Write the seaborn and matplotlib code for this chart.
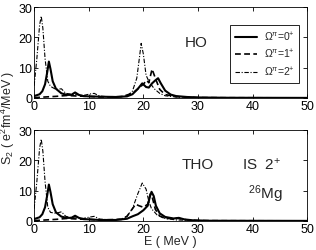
import numpy as np
import pandas as pd
import matplotlib
matplotlib.use('Agg')
import matplotlib.pyplot as plt
import seaborn as sns

# digitized strength functions S2 (e^2 fm^4 / MeV) vs E (MeV)
# HO basis
ho_e0 = [0, 1, 1.5, 2, 2.4, 2.7, 3.0, 3.4, 4, 5, 6, 6.8, 7.5, 8.2, 9, 10, 12, 15, 17, 18, 19, 19.8, 20.5, 21.0, 21.6, 22.2, 22.7, 23.2, 24, 25, 26, 28, 30, 35, 50]
ho_s0 = [0.6, 1.2, 2.2, 4.5, 8.5, 12, 9.5, 5.5, 3.0, 1.5, 1.0, 1.0, 1.8, 1.0, 0.6, 0.5, 0.4, 0.3, 0.5, 1.2, 3.0, 4.8, 3.6, 3.4, 4.8, 5.8, 6.5, 4.8, 2.4, 1.1, 0.6, 0.3, 0.15, 0.05, 0]

ho_e1 = [0, 2, 4, 6, 8, 10, 12, 16, 18, 19, 20, 20.6, 21.0, 21.6, 22.2, 23, 24, 26, 30, 35, 50]
ho_s1 = [0.1, 0.3, 0.5, 0.8, 0.6, 0.5, 0.3, 0.4, 1.5, 3.0, 4.5, 5.8, 5.0, 9.5, 6.5, 2.8, 1.1, 0.4, 0.1, 0.05, 0]

ho_e2 = [0, 0.5, 1.0, 1.3, 1.6, 2, 2.5, 3, 4, 5, 5.8, 7, 8, 9, 10, 11, 12, 14, 17, 18, 18.8, 19.3, 19.6, 20, 20.5, 21, 22, 23, 24, 26, 30, 35, 50]
ho_s2 = [4, 13, 24, 27, 23, 13, 5.5, 3.8, 2.8, 3.0, 1.5, 1.2, 1.0, 0.8, 1.2, 1.5, 0.6, 0.3, 0.6, 2.2, 6.5, 13.5, 18, 14.5, 7.5, 5.5, 3, 1.5, 0.7, 0.3, 0.1, 0.05, 0]

# THO basis
tho_e0 = [0, 1, 1.5, 2, 2.4, 2.7, 3.0, 3.4, 4, 5, 6, 6.8, 7.5, 8.2, 9, 10, 12, 15, 17, 18, 19, 20, 20.8, 21.2, 21.5, 21.9, 22.3, 23, 24, 25.5, 26.5, 27.5, 29, 32, 50]
tho_s0 = [0.6, 1.2, 2.2, 4.5, 8.5, 12, 9.5, 5.5, 2.8, 1.4, 1.0, 1.0, 1.7, 1.0, 0.6, 0.5, 0.3, 0.3, 0.7, 1.5, 2.2, 3.5, 5.0, 8, 9.6, 8.2, 5.0, 2.5, 1.3, 0.8, 1.0, 0.5, 0.2, 0.05, 0]

tho_e1 = [0, 2, 4, 6, 8, 10, 12, 16, 17, 18, 18.6, 19.2, 20, 20.8, 21.3, 21.6, 22.2, 23, 24, 26.5, 28, 30, 35, 50]
tho_s1 = [0.1, 0.3, 0.5, 0.8, 0.6, 0.5, 0.3, 0.5, 1.5, 4, 5.5, 5, 4.5, 5.5, 9, 8, 3.8, 1.6, 0.8, 0.8, 0.3, 0.1, 0.05, 0]

tho_e2 = [0, 0.5, 1.0, 1.3, 1.6, 2, 2.5, 3, 4, 5, 5.8, 7, 8, 9, 10, 11, 12, 14, 16, 17, 18, 19, 19.8, 20.5, 21, 21.5, 22.5, 24, 26, 30, 35, 50]
tho_s2 = [4, 13, 24, 27, 23, 13, 4.5, 2.8, 2.5, 3, 1.5, 1.0, 1.0, 0.8, 1.2, 1.5, 0.6, 0.3, 0.6, 1.5, 4, 9, 12.5, 10.5, 6.5, 4, 2, 0.8, 0.3, 0.1, 0.05, 0]

labels = [r'$\Omega^{\pi}$=0$^{+}$', r'$\Omega^{\pi}$=1$^{+}$', r'$\Omega^{\pi}$=2$^{+}$']
styles = [dict(linestyle='-', linewidth=1.5),
          dict(linestyle=(0, (3.5, 2)), linewidth=1.2),
          dict(linestyle=(0, (4, 1.5, 1, 1.5)), linewidth=0.8)]

sns.set_style('ticks')
plt.rcParams['font.family'] = ['Liberation Sans', 'DejaVu Sans']
plt.rcParams['mathtext.fontset'] = 'custom'
plt.rcParams['mathtext.rm'] = 'Liberation Sans'
plt.rcParams['mathtext.it'] = 'Liberation Sans:italic'
plt.rcParams['font.size'] = 9

fig = plt.figure(figsize=(3.16, 2.51), dpi=100)
ax1 = fig.add_axes([0.108, 0.606, 0.864, 0.362])
ax2 = fig.add_axes([0.108, 0.116, 0.864, 0.362])

panels = [(ax1, [(ho_e0, ho_s0), (ho_e1, ho_s1), (ho_e2, ho_s2)]),
          (ax2, [(tho_e0, tho_s0), (tho_e1, tho_s1), (tho_e2, tho_s2)])]

for ax, series in panels:
    for (e, s), lab, st in zip(series, labels, styles):
        sns.lineplot(x=e, y=s, ax=ax, color='black', label=lab, sort=False, **st)
    ax.set_xlim(0, 50)
    ax.set_ylim(0, 30)
    ax.set_xticks([0, 10, 20, 30, 40, 50])
    ax.set_yticks([0, 10, 20, 30])
    ax.tick_params(direction='in', top=True, right=True, length=3, width=0.6,
                   labelsize=9, pad=1.5, colors='black')
    for sp in ax.spines.values():
        sp.set_visible(True)
        sp.set_linewidth(0.6)
        sp.set_color('black')
    ax.set_xlabel('')
    ax.set_ylabel('')

leg = ax1.legend(loc='upper right', bbox_to_anchor=(0.99, 0.86), fontsize=7.5,
                 frameon=True, fancybox=False, edgecolor='black', framealpha=1,
                 handlelength=2.2, handletextpad=0.6, borderpad=0.45, labelspacing=0.4)
leg.get_frame().set_linewidth(0.6)
ax2.get_legend().remove()

ax1.text(0.595, 0.62, 'HO', transform=ax1.transAxes, fontsize=11, ha='center', va='center')
ax2.text(0.6, 0.63, 'THO', transform=ax2.transAxes, fontsize=11, ha='center', va='center')
ax2.text(0.835, 0.63, r'IS  2$^{+}$', transform=ax2.transAxes, fontsize=11, ha='center', va='center')
ax2.text(0.845, 0.31, r'$^{26}$Mg', transform=ax2.transAxes, fontsize=11, ha='center', va='center')

ax2.set_xlabel('E ( MeV )', fontsize=9, labelpad=0)
fig.text(0.025, 0.53, r'S$_2$ ( e$^2$fm$^4$/MeV )', rotation=90, ha='center', va='center', fontsize=9)

fig.savefig('out.png', dpi=100)
